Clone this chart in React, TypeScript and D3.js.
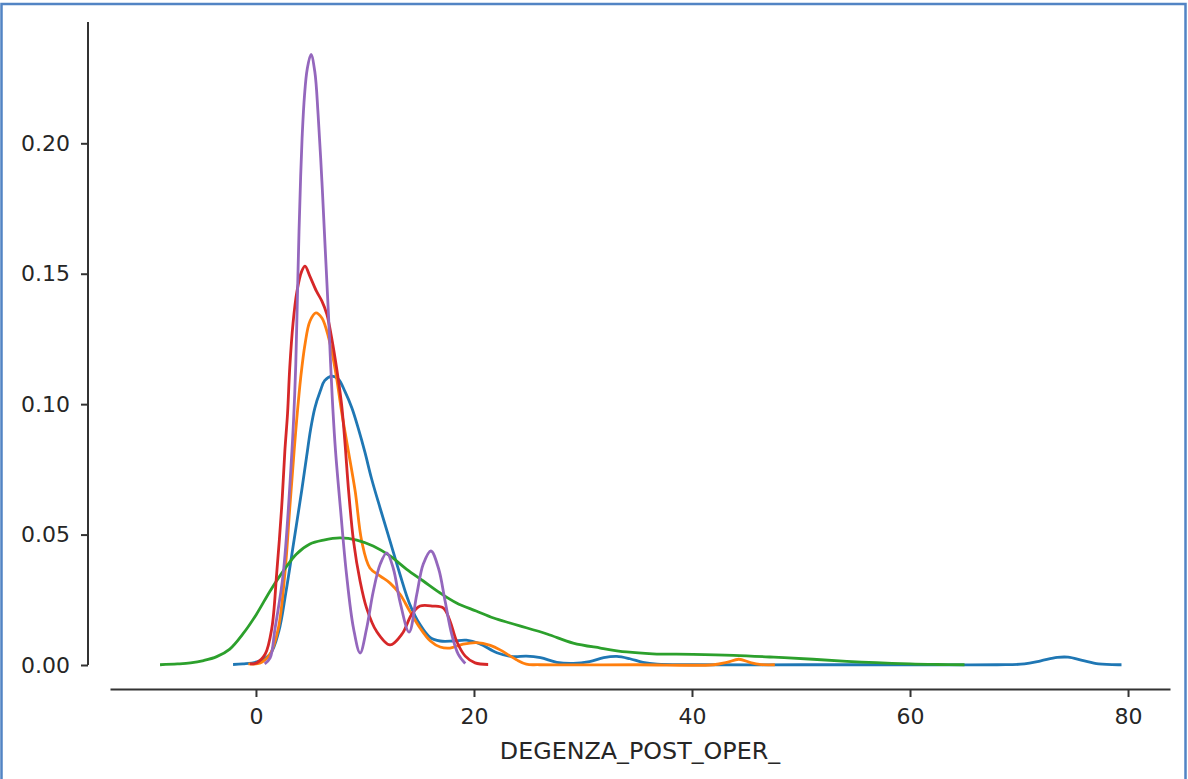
import { useEffect, useRef } from 'react'
import * as d3 from 'd3'

// density curves: [days, density]
const blueKde: [number, number][] = [
  [-2.1, 0.0002], [-1.2, 0.0004], [0.1, 0.0012], [1.3, 0.0042], [2.1, 0.013], [2.75, 0.028],
  [3.5, 0.048], [4.2, 0.067], [4.65, 0.08], [5.0, 0.09], [5.4, 0.0985], [5.9, 0.105],
  [6.3, 0.109], [6.95, 0.1107], [7.55, 0.1096], [8.15, 0.105], [8.8, 0.0985], [9.4, 0.0905],
  [10.0, 0.0815], [10.6, 0.0715], [11.4, 0.06], [12.3, 0.0475], [13.2, 0.0349], [14.1, 0.0234],
  [15.05, 0.0155], [16.0, 0.0105], [16.9, 0.0092], [18.1, 0.0092], [19.3, 0.0095], [20.5, 0.0082],
  [22.1, 0.0047], [23.6, 0.0032], [24.8, 0.0034], [26.1, 0.0028], [27.6, 0.001], [29.1, 0.0006],
  [30.6, 0.0013], [31.9, 0.0028], [33.1, 0.0033], [34.3, 0.0024], [35.5, 0.001], [36.8, 0.0003],
  [40, 0.0001], [50, 0.0001], [60, 0.0001], [68, 0.0001], [70.5, 0.0004], [72, 0.0016],
  [73.5, 0.0029], [74.5, 0.003], [75.8, 0.0018], [77.3, 0.0004], [79.4, 0.0001],
]

const orangeKde: [number, number][] = [
  [-0.7, 0.0004], [0.4, 0.0008], [1.3, 0.0042], [2.05, 0.014], [2.65, 0.035], [3.1, 0.06],
  [3.5, 0.082], [3.75, 0.0946], [4.1, 0.11], [4.5, 0.123], [4.95, 0.1318], [5.5, 0.135],
  [6.05, 0.133], [6.5, 0.128], [6.95, 0.1203], [7.4, 0.11], [7.85, 0.0973], [8.35, 0.085],
  [9.1, 0.0667], [9.7, 0.0475], [10.45, 0.0372], [11.4, 0.0341], [12.3, 0.0314], [13.2, 0.0272],
  [14.1, 0.0207], [15.05, 0.0142], [16.0, 0.0092], [16.9, 0.0069], [17.8, 0.0065], [19.0, 0.008],
  [20.25, 0.0086], [21.5, 0.0075], [22.4, 0.0058], [23.3, 0.0035], [23.9, 0.002], [24.8, 0.0003],
  [26, 0.0001], [35, 0.0001], [42, 0.0001], [43.2, 0.001], [44.3, 0.0022], [45.3, 0.001],
  [46.2, 0.0002], [47.6, 0.0001],
]

const greenKde: [number, number][] = [
  [-8.8, 0.0001], [-7.2, 0.0004], [-6, 0.0008], [-4.8, 0.0017], [-3.6, 0.0032], [-2.4, 0.0061],
  [-1.2, 0.0119], [0.05, 0.0195], [1.3, 0.0284], [2.5, 0.036], [3.7, 0.0425], [4.95, 0.0464],
  [6.2, 0.0479], [7.7, 0.0487], [9.25, 0.0479], [10.75, 0.0456], [12.3, 0.0418], [13.8, 0.0368],
  [15.35, 0.0322], [16.9, 0.0276], [18.4, 0.0238], [20.2, 0.0207], [21.8, 0.018], [23.3, 0.0161],
  [24.2, 0.015], [26.7, 0.0119], [29.1, 0.0084], [31.6, 0.0065], [34, 0.005], [36.4, 0.0043],
  [40.1, 0.0041], [43.8, 0.0037], [47.5, 0.003], [51.1, 0.0022], [54.2, 0.0014], [56.9, 0.0009],
  [60, 0.0004], [62.5, 0.0002], [65, 0.0001],
]

const redKde: [number, number][] = [
  [-0.55, 0.0004], [0.05, 0.0008], [0.85, 0.0042], [1.45, 0.014], [1.9, 0.035], [2.35, 0.06],
  [2.65, 0.082], [2.9, 0.0966], [3.1, 0.114], [3.4, 0.131], [3.75, 0.143], [4.2, 0.151],
  [4.5, 0.1529], [4.95, 0.149], [5.55, 0.1433], [6.05, 0.1395], [6.5, 0.1345], [6.95, 0.1253],
  [7.4, 0.1138], [7.85, 0.1001], [8.15, 0.086], [8.5, 0.0667], [8.95, 0.0475], [9.55, 0.0322],
  [10.15, 0.0218], [11.05, 0.013], [12.3, 0.0077], [13.4, 0.0119], [14.3, 0.0195], [15.05, 0.0226],
  [16.25, 0.0226], [17.2, 0.0218], [17.8, 0.0169], [18.4, 0.0092], [19.2, 0.0034], [20.1, 0.0008],
  [21.3, 0.0002],
]

const purpleKde: [number, number][] = [
  [0.8, 0.0004], [1.3, 0.0027], [1.75, 0.014], [2.5, 0.035], [3.3, 0.082], [3.5, 0.0985],
  [3.65, 0.115], [3.8, 0.1406], [3.95, 0.1663], [4.1, 0.1874], [4.25, 0.2036], [4.45, 0.2182],
  [4.7, 0.2284], [5.05, 0.2341], [5.4, 0.2274], [5.7, 0.2111], [6.05, 0.1854], [6.35, 0.1598],
  [6.65, 0.1345], [6.85, 0.1153], [7.05, 0.0985], [7.3, 0.082], [7.75, 0.06], [8.3, 0.035],
  [8.95, 0.014], [9.55, 0.0046], [10.15, 0.014], [10.75, 0.028], [11.4, 0.0387], [12.0, 0.043],
  [12.6, 0.037], [13.2, 0.0245], [14.05, 0.0126], [14.75, 0.027], [15.35, 0.0387], [16.05, 0.0437],
  [16.75, 0.037], [17.35, 0.0245], [17.95, 0.0119], [18.55, 0.0042], [19.2, 0.0006],
]

const series = [
  { name: 'blue', color: '#1f77b4', data: blueKde },
  { name: 'orange', color: '#ff7f0e', data: orangeKde },
  { name: 'green', color: '#2ca02c', data: greenKde },
  { name: 'red', color: '#d62728', data: redKde },
  { name: 'purple', color: '#9467bd', data: purpleKde },
]

const xTicks = [0, 20, 40, 60, 80]
const yTicks = [0, 0.05, 0.1, 0.15, 0.2]
const xLabel = 'DEGENZA_POST_OPER_'

export default function App() {
  const svgRef = useRef<SVGSVGElement>(null)

  useEffect(() => {
    if (!svgRef.current) return
    const svg = d3.select(svgRef.current)
    svg.selectAll('*').remove()

    const width = 1188
    const height = 779
    const font = "'DejaVu Sans', sans-serif"
    const axisColor = '#333333'
    const textColor = '#262626'

    svg.attr('width', width).attr('height', height).attr('viewBox', `0 0 ${width} ${height}`)

    svg.append('rect').attr('width', width).attr('height', height).attr('fill', '#fff')

    // screenshot frame
    svg.append('rect')
      .attr('x', 1.5).attr('y', 4).attr('width', 1184).attr('height', 820)
      .attr('fill', 'none').attr('stroke', '#5284c4').attr('stroke-width', 2.5)

    // scales: 0 -> 256px, 10.9px per day; density 0 -> 665px
    const x = d3.scaleLinear().domain([-13.39, 83.85]).range([110, 1170])
    const y = d3.scaleLinear().domain([0, 0.2]).range([665, 143.3])
    const yTop = 0.2465

    // y spine (trimmed at 0, offset)
    const spineX = 88
    svg.append('line')
      .attr('x1', spineX).attr('x2', spineX)
      .attr('y1', y(0)).attr('y2', y(yTop))
      .attr('stroke', axisColor).attr('stroke-width', 2)

    const yAxis = svg.append('g')
      .attr('transform', `translate(${spineX},0)`)
      .call(d3.axisLeft(y).tickValues(yTicks).tickFormat(d3.format('.2f')).tickSize(7).tickSizeOuter(0))
    yAxis.select('.domain').remove()
    yAxis.selectAll('line').attr('stroke', axisColor).attr('stroke-width', 2)
    yAxis.selectAll('text')
      .attr('x', -18)
      .attr('fill', textColor)
      .attr('font-family', font)
      .attr('font-size', 22)

    // x axis
    const axisY = 689
    const xAxis = svg.append('g')
      .attr('transform', `translate(0,${axisY})`)
      .call(d3.axisBottom(x).tickValues(xTicks).tickFormat(d3.format('d')).tickSize(8).tickSizeOuter(0))
    xAxis.select('.domain').attr('stroke', axisColor).attr('stroke-width', 2)
    xAxis.selectAll('line').attr('stroke', axisColor).attr('stroke-width', 2)
    xAxis.selectAll('text')
      .attr('y', 35)
      .attr('dy', 0)
      .attr('fill', textColor)
      .attr('font-family', font)
      .attr('font-size', 22)

    svg.append('text')
      .attr('x', 640)
      .attr('y', 759)
      .attr('text-anchor', 'middle')
      .attr('fill', textColor)
      .attr('font-family', font)
      .attr('font-size', 23.8)
      .text(xLabel)

    // density curves
    const line = d3.line<[number, number]>()
      .x(d => x(d[0]))
      .y(d => y(Math.max(0, d[1])))
      .curve(d3.curveCatmullRom.alpha(0.5))

    svg.append('g')
      .selectAll('path')
      .data(series)
      .join('path')
      .attr('d', d => line(d.data))
      .attr('fill', 'none')
      .attr('stroke', d => d.color)
      .attr('stroke-width', 2.8)
      .attr('stroke-linejoin', 'round')
  }, [])

  return (
    <div style={{ position: 'absolute', left: 0, top: 0 }}>
      <svg ref={svgRef} style={{ display: 'block' }} />
    </div>
  )
}
